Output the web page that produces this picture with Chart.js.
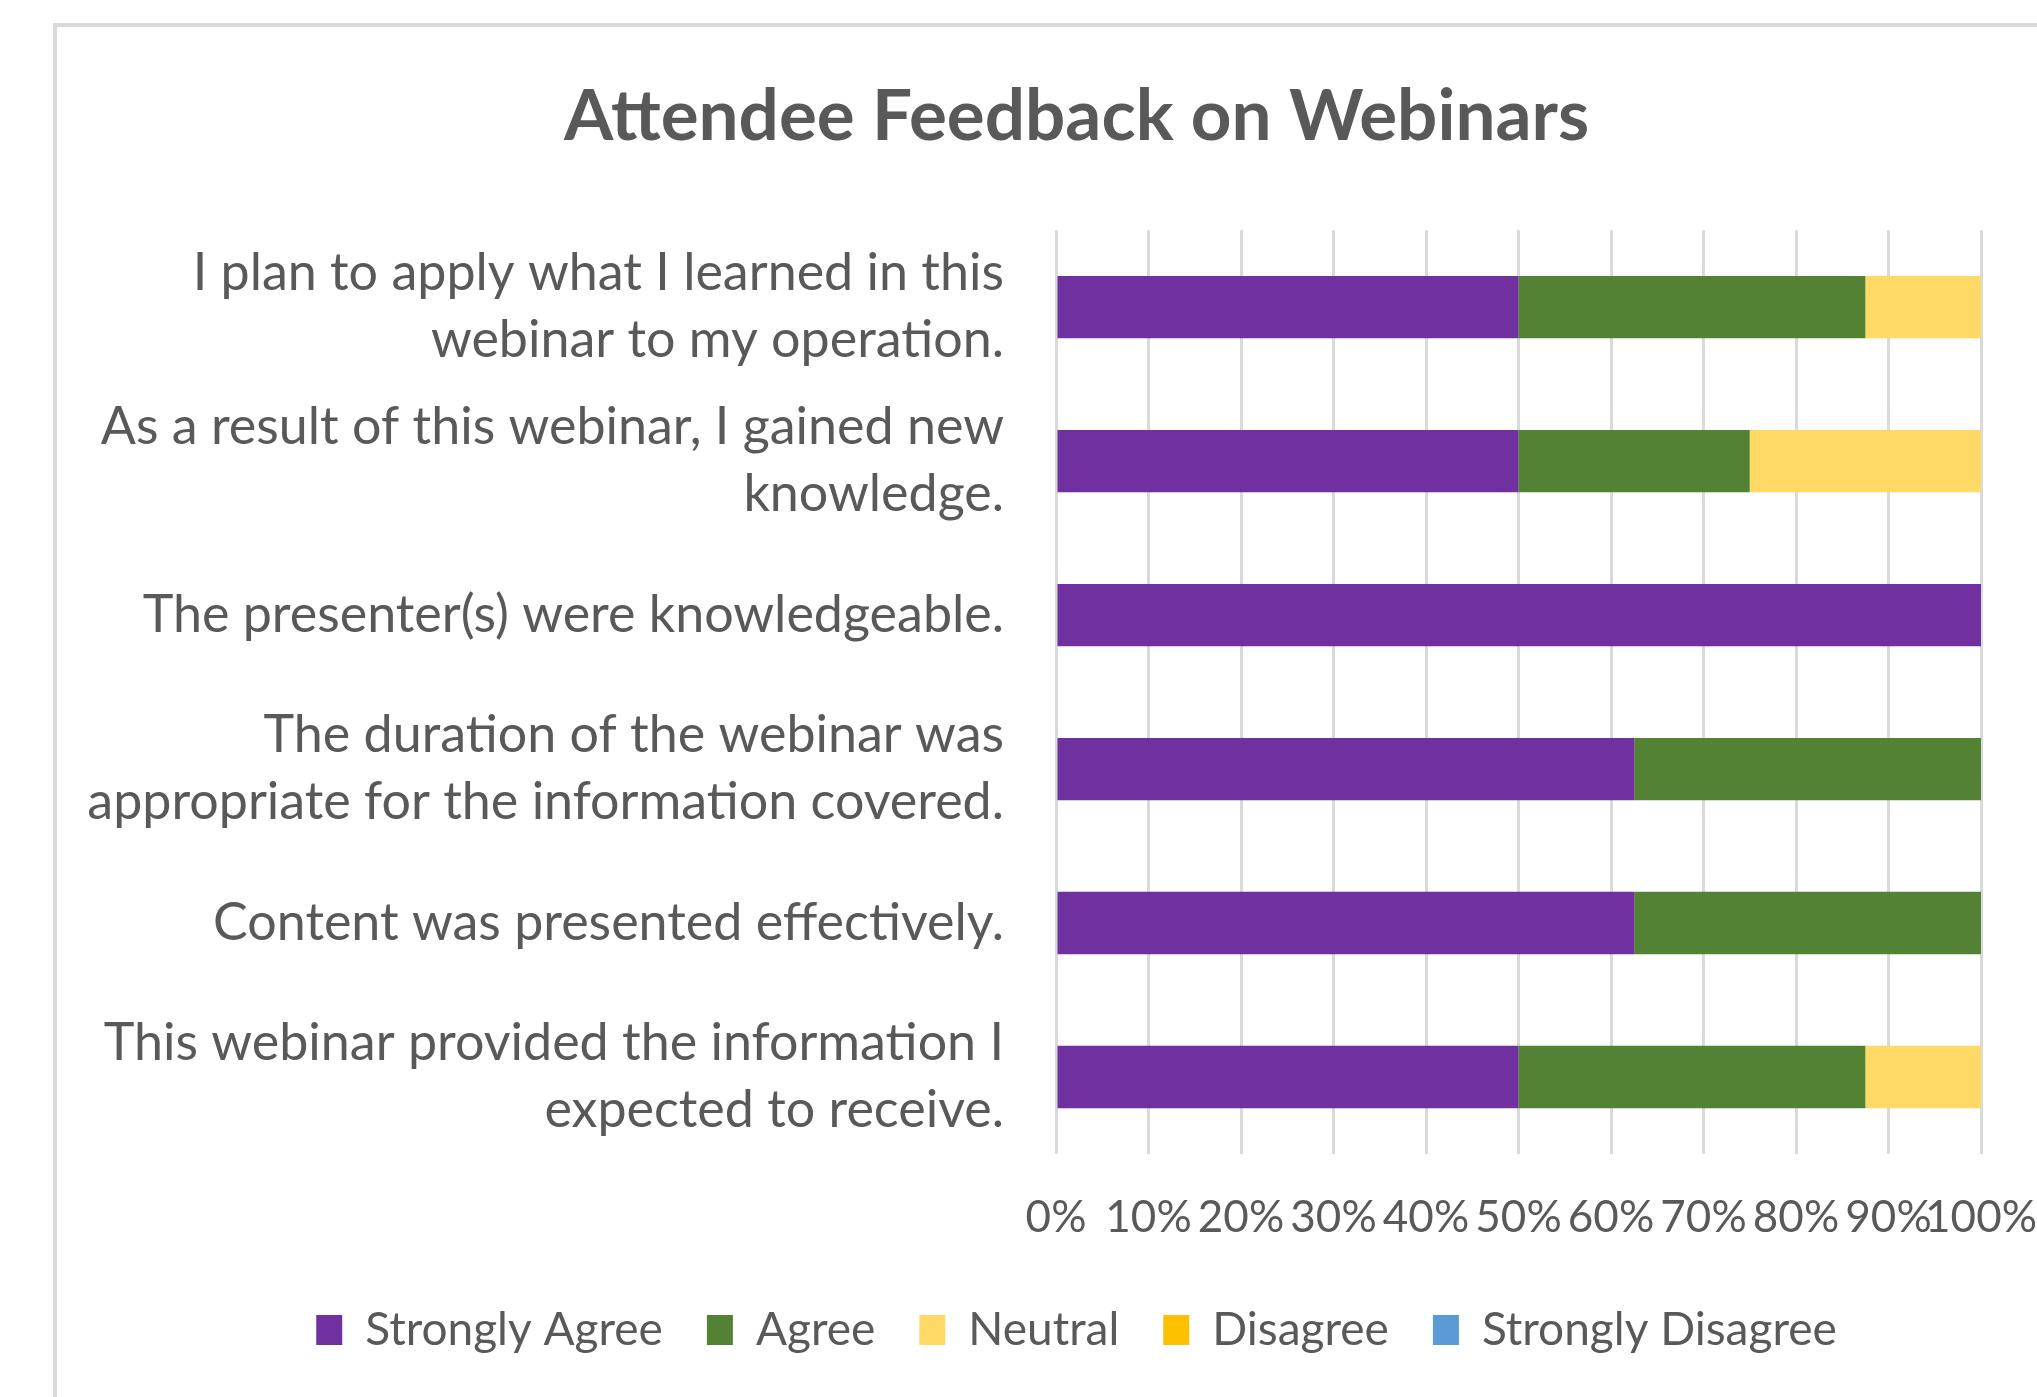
<!DOCTYPE html>
<html>
<head>
<meta charset="utf-8">
<script src="https://cdn.jsdelivr.net/npm/chart.js@4"></script>
<style>
  html, body { margin: 0; padding: 0; background: #fff; overflow: hidden; }
  #frame {
    position: absolute; left: 53px; top: 23px;
    width: 3000px; height: 3000px;
    border: 4px solid #d9d9d9; background: #fff;
  }
  #wrap { position: absolute; left: 0; top: 0; width: 2037px; height: 1397px; }
</style>
</head>
<body>
<div id="frame"></div>
<div id="wrap"><canvas id="chart"></canvas></div>
<script>
// categories, top to bottom
const questions = [
  ["I plan to apply what I learned in this", "webinar to my operation."],
  ["As a result of this webinar, I gained new", "knowledge."],
  "The presenter(s) were knowledgeable.",
  ["The duration of the webinar was", "appropriate for the information covered."],
  "Content was presented effectively.",
  ["This webinar provided the information I", "expected to receive."]
];

// percent of responses per category
const stronglyAgree = [50, 50, 100, 62.5, 62.5, 50];
const agree = [37.5, 25, 0, 37.5, 37.5, 37.5];
const neutral = [12.5, 25, 0, 0, 0, 12.5];
const disagree = [0, 0, 0, 0, 0, 0];
const stronglyDisagree = [0, 0, 0, 0, 0, 0];

const seriesNames = ["Strongly Agree", "Agree", "Neutral", "Disagree", "Strongly Disagree"];
const seriesColors = ["#7030A0", "#548235", "#FFD966", "#FFC000", "#5B9BD5"];
const seriesValues = [stronglyAgree, agree, neutral, disagree, stronglyDisagree];

const textColor = "#595959";
const fontFamily = "Lato, 'Open Sans', sans-serif";

const ctx = document.getElementById("chart").getContext("2d");

new Chart(ctx, {
  type: "bar",
  data: {
    labels: questions,
    datasets: seriesNames.map((name, i) => ({
      label: name,
      data: seriesValues[i],
      backgroundColor: seriesColors[i],
      borderWidth: 0,
      categoryPercentage: 1,
      barPercentage: 0.405
    }))
  },
  options: {
    indexAxis: "y",
    responsive: true,
    maintainAspectRatio: false,
    animation: false,
    layout: { padding: { left: 116, right: 0, top: 0, bottom: 34 } },
    plugins: {
      title: {
        display: true,
        text: "Attendee Feedback on Webinars",
        color: textColor,
        font: { family: fontFamily, size: 71, weight: "bold" },
        padding: { top: 75, bottom: 70 }
      },
      legend: {
        position: "bottom",
        labels: {
          color: textColor,
          font: { family: fontFamily, size: 46 },
          boxWidth: 26,
          boxHeight: 30,
          padding: 44
        }
      },
      tooltip: { enabled: false }
    },
    scales: {
      x: {
        stacked: true,
        min: 0,
        max: 100,
        grid: { color: "#d9d9d9", lineWidth: 3, drawTicks: false },
        border: { display: false },
        ticks: {
          stepSize: 10,
          autoSkip: false,
          minRotation: 0,
          maxRotation: 0,
          padding: 37,
          color: textColor,
          font: { family: fontFamily, size: 44 },
          callback: v => v + "%"
        },
        afterFit: scale => {
          scale.height = 109;
          scale.paddingRight = 56;
        }
      },
      y: {
        stacked: true,
        grid: { display: false, drawTicks: false },
        border: { display: false },
        ticks: {
          autoSkip: false,
          padding: 52,
          color: textColor,
          font: { family: fontFamily, size: 52, lineHeight: 1.29 }
        },
        afterFit: scale => {
          scale.width = 940;
          // long question labels reach past the axis box, don't clip them
          scale._computeLabelArea = () => undefined;
        }
      }
    }
  }
});
</script>
</body>
</html>
